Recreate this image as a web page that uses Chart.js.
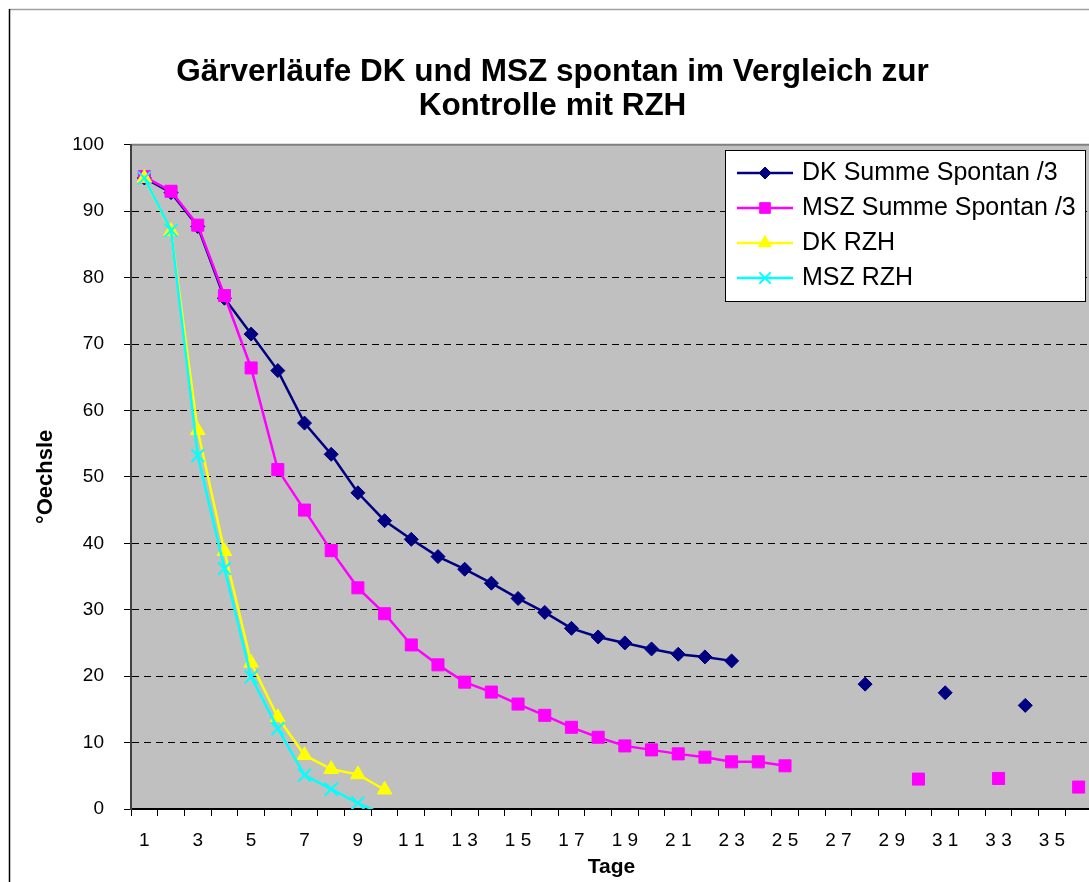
<!DOCTYPE html>
<html>
<head>
<meta charset="utf-8">
<title>Gärverläufe DK und MSZ</title>
<script src="https://cdn.jsdelivr.net/npm/chart.js@4.4.1/dist/chart.umd.min.js"></script>
<style>
html, body { margin: 0; padding: 0; background: #fff; overflow: hidden; }
</style>
</head>
<body>
<canvas id="gaerCanvas" width="1103" height="882"></canvas>
<script>
// Tage 1..36
let days = [1, 2, 3, 4, 5, 6, 7, 8, 9, 10, 11, 12, 13, 14, 15, 16, 17, 18,
            19, 20, 21, 22, 23, 24, 25, 26, 27, 28, 29, 30, 31, 32, 33, 34, 35, 36];

// Excel label style, only every second day
let xTickLabels = ['1', '', '3', '', '5', '', '7', '', '9', '', '1 1', '', '1 3', '', '1 5', '', '1 7', '',
                   '1 9', '', '2 1', '', '2 3', '', '2 5', '', '2 7', '', '2 9', '', '3 1', '', '3 3', '', '3 5', ''];

let seriesNames = ['DK Summe Spontan /3', 'MSZ Summe Spontan /3', 'DK RZH', 'MSZ RZH'];

let dkSpontan = [95, 92.8, 87.7, 76.9, 71.5, 66.0, 58.1, 53.4, 47.6, 43.4, 40.6, 38.0, 36.1, 34.0, 31.7, 29.6,
                 27.2, 25.9, 25.0, 24.1, 23.3, 22.9, 22.3, null, null, null, null, 18.8, null, null, 17.5,
                 null, null, 15.6, null, null];

let mszSpontan = [95.2, 93.0, 87.9, 77.3, 66.4, 51.1, 45.0, 38.9, 33.3, 29.4, 24.7, 21.7, 19.1, 17.6, 15.8,
                  14.1, 12.3, 10.8, 9.5, 8.9, 8.3, 7.8, 7.1, 7.1, 6.5, null, null, null, null, 4.5, null,
                  null, 4.6, null, null, 3.3];

let dkRzh = [95, 87.0, 57.0, 38.8, 22.0, 13.8, 8.1, 6.0, 5.2, 2.9];

let mszRzh = [95, 87.1, 53.2, 36.2, 19.9, 12.1, 5.1, 3.0, 0.9, -0.9];

let yTicks = [0, 10, 20, 30, 40, 50, 60, 70, 80, 90, 100];

Chart.defaults.font.family = "'Liberation Sans', Arial, sans-serif";
Chart.defaults.color = '#000';

// grey plot area, frame lines and the boxed legend inside the plot
let excelLook = {
    id: 'excelLook',
    beforeDraw: function (chart) {
        let ctx = chart.ctx;
        let a = chart.chartArea;
        ctx.save();
        ctx.fillStyle = '#ffffff';
        ctx.fillRect(0, 0, chart.width, chart.height);
        ctx.fillStyle = '#c0c0c0';
        ctx.fillRect(a.left, a.top, a.right - a.left, a.bottom - a.top);
        ctx.strokeStyle = '#808080';
        ctx.lineWidth = 2;
        ctx.beginPath();
        ctx.moveTo(a.left, a.top);
        ctx.lineTo(a.right, a.top);
        ctx.stroke();
        ctx.strokeStyle = '#a0a0a0';
        ctx.lineWidth = 1.5;
        ctx.beginPath();
        ctx.moveTo(9, 9.5);
        ctx.lineTo(chart.width, 9.5);
        ctx.stroke();
        ctx.strokeStyle = '#000';
        ctx.beginPath();
        ctx.moveTo(9.5, 9);
        ctx.lineTo(9.5, chart.height);
        ctx.stroke();
        ctx.restore();
    },
    afterDraw: function (chart) {
        let ctx = chart.ctx;
        ctx.save();
        ctx.fillStyle = '#fff';
        ctx.fillRect(725.5, 150.5, 360, 151);
        ctx.strokeStyle = '#000';
        ctx.lineWidth = 1;
        ctx.strokeRect(725.5, 150.5, 360, 151);
        let legendRadius = [6, 7.5, 7.5, 8];
        chart.data.datasets.forEach(function (ds, i) {
            let y = 173 + i * 35;
            ctx.strokeStyle = ds.borderColor;
            ctx.lineWidth = 2.5;
            ctx.beginPath();
            ctx.moveTo(737, y);
            ctx.lineTo(793, y);
            ctx.stroke();
            ctx.fillStyle = ds.pointBackgroundColor;
            ctx.strokeStyle = ds.pointBorderColor;
            ctx.lineWidth = ds.pointBorderWidth;
            Chart.helpers.drawPoint(ctx, {
                pointStyle: ds.pointStyle,
                radius: legendRadius[i],
                rotation: 0,
                borderWidth: ds.pointBorderWidth
            }, 765, y);
            ctx.fillStyle = '#000';
            ctx.font = "25px 'Liberation Sans', Arial, sans-serif";
            ctx.textBaseline = 'middle';
            ctx.textAlign = 'left';
            ctx.fillText(ds.label, 802, y);
        });
        ctx.restore();
    }
};

let hideBelowAxis = function (c) {
    return c.raw < 0 ? 0 : 9;
};

let gaerChart = new Chart(document.getElementById('gaerCanvas').getContext('2d'), {
    type: 'line',
    data: {
        labels: days,
        datasets: [{
            label: seriesNames[0],
            data: dkSpontan,
            borderColor: '#000080',
            backgroundColor: '#000080',
            pointBackgroundColor: '#000080',
            pointBorderColor: '#000080',
            pointBorderWidth: 1,
            pointStyle: 'rectRot',
            pointRadius: 7,
            borderWidth: 2.5,
            order: 4
        }, {
            label: seriesNames[1],
            data: mszSpontan,
            borderColor: '#ff00ff',
            backgroundColor: '#ff00ff',
            pointBackgroundColor: '#ff00ff',
            pointBorderColor: '#ff00ff',
            pointBorderWidth: 1,
            pointStyle: 'rect',
            pointRadius: 8.5,
            borderWidth: 2.5,
            order: 3
        }, {
            label: seriesNames[2],
            data: dkRzh,
            borderColor: '#ffff00',
            backgroundColor: '#ffff00',
            pointBackgroundColor: '#ffff00',
            pointBorderColor: '#ffff00',
            pointBorderWidth: 1,
            pointStyle: 'triangle',
            pointRadius: 8.5,
            borderWidth: 2.5,
            order: 2
        }, {
            label: seriesNames[3],
            data: mszRzh,
            borderColor: '#00ffff',
            backgroundColor: '#00ffff',
            pointBackgroundColor: '#00ffff',
            pointBorderColor: '#00ffff',
            pointBorderWidth: 2,
            pointStyle: 'crossRot',
            pointRadius: hideBelowAxis,
            borderWidth: 2.5,
            order: 1
        }]
    },
    options: {
        responsive: false,
        animation: false,
        events: [],
        layout: {
            padding: { left: 2, right: 0, top: 10, bottom: 0 }
        },
        plugins: {
            legend: { display: false },
            tooltip: { enabled: false },
            title: {
                display: true,
                text: ['Gärverläufe DK und MSZ spontan im Vergleich zur', 'Kontrolle mit RZH'],
                color: '#000',
                font: { size: 31.5, weight: 'bold', lineHeight: 1.06 },
                padding: { top: 46, bottom: 22 }
            }
        },
        scales: {
            x: {
                offset: true,
                grid: {
                    offset: true,
                    drawOnChartArea: false,
                    drawTicks: true,
                    tickLength: 7,
                    tickColor: '#000',
                    tickWidth: 1
                },
                border: { display: true, color: '#000', width: 2 },
                ticks: {
                    autoSkip: false,
                    maxRotation: 0,
                    padding: 13,
                    font: { size: 19 },
                    callback: function (value, index) {
                        return xTickLabels[index];
                    }
                },
                title: {
                    display: true,
                    text: 'Tage',
                    font: { size: 21, weight: 'bold' },
                    padding: { top: 0, bottom: 2 }
                },
                afterFit: function (scale) {
                    scale.height = 73;
                    scale.paddingLeft = 0;
                    scale.paddingRight = 0;
                }
            },
            y: {
                min: 0,
                max: 100,
                afterBuildTicks: function (scale) {
                    scale.ticks = yTicks.map(function (v) { return { value: v }; });
                },
                grid: {
                    color: function (c) {
                        return (c.tick && c.tick.value > 0 && c.tick.value < 100) ? '#000' : 'rgba(0,0,0,0)';
                    },
                    lineWidth: 1,
                    tickLength: 7,
                    tickColor: '#000',
                    tickBorderDash: [],
                    tickWidth: 1
                },
                border: { display: true, color: '#404040', width: 2, dash: [7, 5] },
                ticks: {
                    padding: 20,
                    font: { size: 19 }
                },
                title: {
                    display: true,
                    text: '°Oechsle',
                    font: { size: 22, weight: 'bold' },
                    padding: { top: 31, bottom: 0 }
                },
                afterFit: function (scale) {
                    scale.width = 129;
                }
            }
        }
    },
    plugins: [excelLook]
});
</script>
</body>
</html>
